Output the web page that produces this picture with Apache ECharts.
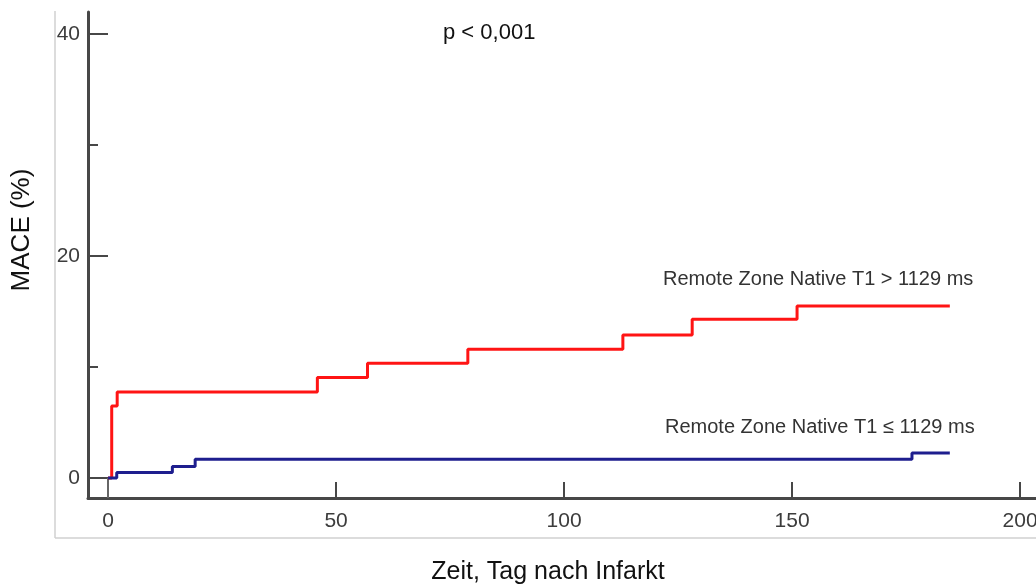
<!DOCTYPE html>
<html>
<head>
<meta charset="utf-8">
<title>MACE</title>
<script src="https://cdn.jsdelivr.net/npm/echarts@6/dist/echarts.min.js"></script>
<style>
  html, body { margin: 0; padding: 0; background: #fff; }
  #echars_main { width: 1036px; height: 588px; }
</style>
</head>
<body>
<div id="echars_main"></div>
<script>
// Daten
var timeRed = [0, 0.8, 2.0, 45.9, 56.9, 78.9, 112.9, 128.1, 151.1, 184.6];
var maceRed = [0, 6.5, 7.75, 9.05, 10.35, 11.6, 12.9, 14.3, 15.5, 15.5];
var timeBlue = [0, 1.9, 14.1, 19.1, 176.3, 184.6];
var maceBlue = [0, 0.5, 1.05, 1.7, 2.25, 2.25];

var xTicks = [0, 50, 100, 150, 200];
var yTicks = [0, 20, 40];
var yMinorTicks = [10, 30];

var nameRed = 'Remote Zone Native T1 > 1129 ms';
var nameBlue = 'Remote Zone Native T1 ≤ 1129 ms';

var font = 'Liberation Sans, Arial, sans-serif';
var axisColor = '#474747';

function pairs(xs, ys) {
  return xs.map(function (x, i) { return [x, ys[i]]; });
}

var myChart = echarts.init(document.getElementById('echars_main'));

var option = {
  animation: false,
  backgroundColor: '#fff',
  textStyle: { fontFamily: font },
  grid: { left: 88, right: 0, top: 12, height: 486, outerBoundsMode: 'none', containLabel: false },
  xAxis: [
    {
      type: 'value', min: -4.4, max: 203.5,
      axisLine: { onZero: false, lineStyle: { color: axisColor, width: 3 } },
      axisTick: { inside: true, length: 16, customValues: xTicks.slice(1), lineStyle: { color: axisColor, width: 2 } },
      axisLabel: { customValues: xTicks, margin: 13, fontSize: 21, color: '#3c3c3c', fontFamily: font },
      splitLine: { show: false }
    },
    {
      // nur der etwas laengere Strich bei 0
      type: 'value', min: -4.4, max: 203.5, position: 'bottom',
      axisLine: { show: false, onZero: false },
      axisTick: { inside: true, length: 20, customValues: [0], lineStyle: { color: '#666', width: 2 } },
      axisLabel: { show: false },
      splitLine: { show: false }
    }
  ],
  yAxis: [
    {
      type: 'value', min: -1.8, max: 42,
      axisLine: { show: true, onZero: false, lineStyle: { color: axisColor, width: 3 } },
      axisTick: { show: true, inside: true, length: 20, customValues: yTicks, lineStyle: { color: axisColor, width: 2 } },
      axisLabel: { customValues: yTicks, margin: 8, fontSize: 21, color: '#3c3c3c', fontFamily: font },
      splitLine: { show: false }
    },
    {
      type: 'value', min: -1.8, max: 42, position: 'left',
      axisLine: { show: false, onZero: false },
      axisTick: { show: true, inside: true, length: 10, customValues: yMinorTicks, lineStyle: { color: axisColor, width: 2 } },
      axisLabel: { show: false },
      splitLine: { show: false }
    }
  ],
  series: [
    {
      name: nameRed, type: 'line', step: 'end', showSymbol: false,
      xAxisIndex: 0, yAxisIndex: 0,
      lineStyle: { color: '#ff1414', width: 3 },
      itemStyle: { color: '#ff1414' },
      data: pairs(timeRed, maceRed)
    },
    {
      name: nameBlue, type: 'line', step: 'end', showSymbol: false,
      xAxisIndex: 0, yAxisIndex: 0,
      lineStyle: { color: '#1e1e8e', width: 3 },
      itemStyle: { color: '#1e1e8e' },
      data: pairs(timeBlue, maceBlue)
    }
  ],
  graphic: [
    { type: 'line', silent: true, shape: { x1: 55, y1: 11, x2: 55, y2: 538 }, style: { stroke: '#d0d0d0', lineWidth: 1.5 } },
    { type: 'line', silent: true, shape: { x1: 55, y1: 538, x2: 1036, y2: 538 }, style: { stroke: '#d0d0d0', lineWidth: 1.5 } },
    { type: 'text', left: 443, top: 22, style: { text: 'p < 0,001', font: '22px ' + font, fill: '#111' } },
    { type: 'text', left: 663, top: 269, style: { text: nameRed, font: '20px ' + font, fill: '#333' } },
    { type: 'text', left: 665, top: 417, style: { text: nameBlue, font: '20px ' + font, fill: '#333' } },
    { type: 'text', x: 22, y: 230, rotation: Math.PI / 2,
      style: { text: 'MACE (%)', font: '26px ' + font, fill: '#111', align: 'center', verticalAlign: 'middle' } },
    { type: 'text', x: 548, y: 572,
      style: { text: 'Zeit, Tag nach Infarkt', font: '25px ' + font, fill: '#111', align: 'center', verticalAlign: 'middle' } }
  ]
};

myChart.setOption(option);
</script>
</body>
</html>
